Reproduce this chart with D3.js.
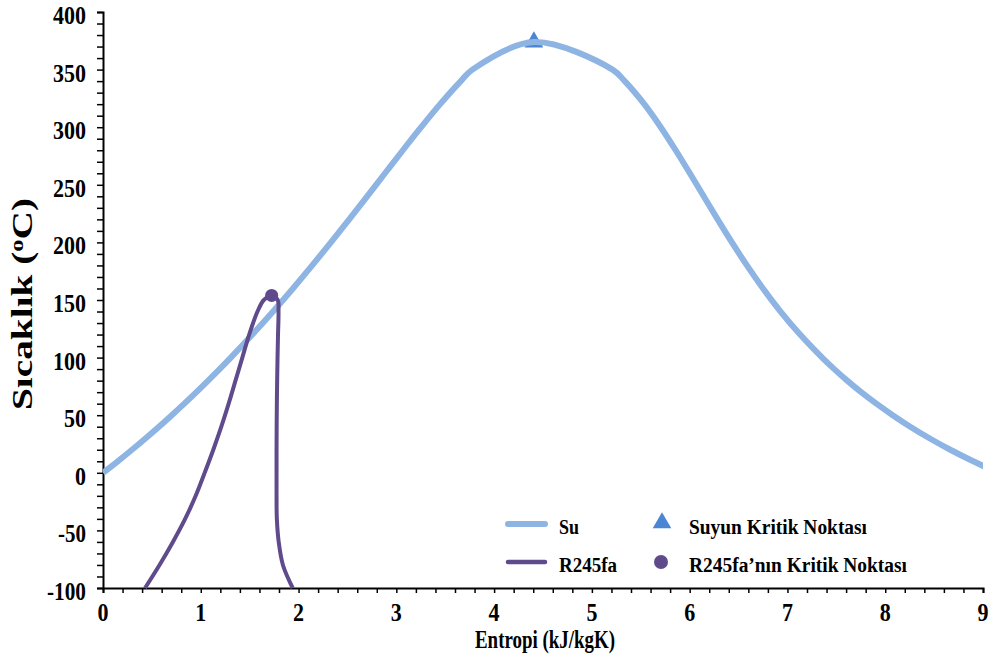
<!DOCTYPE html>
<html>
<head>
<meta charset="utf-8">
<script src="https://cdn.jsdelivr.net/npm/d3@7"></script>
<style>
  body { margin: 0; background: #fff; }
  text { font-family: "Liberation Serif", "Times New Roman", serif; font-weight: bold; fill: #000; }
</style>
</head>
<body>
<div id="chart"></div>
<script>
// Su (water) saturation dome: temperature and liquid / vapour entropy
var waterT  = [0.01, 10, 20, 30, 40, 50, 60, 70, 80, 90, 100, 120, 140, 160, 180, 200, 220, 240, 260, 280, 300, 320, 340, 350, 373.95];
var waterSf = [0, 0.151, 0.2966, 0.4369, 0.5724, 0.7038, 0.8313, 0.9551, 1.0753, 1.1925, 1.3069, 1.5276, 1.7391, 1.9427, 2.1396, 2.3309, 2.5178, 2.7015, 2.8838, 3.0668, 3.2534, 3.448, 3.6594, 3.7777, 4.407];
var waterSg = [9.1556, 8.8999, 8.666, 8.452, 8.2557, 8.0763, 7.9096, 7.754, 7.6112, 7.4787, 7.3549, 7.1296, 6.9299, 6.7502, 6.5857, 6.4323, 6.2861, 6.1437, 6.0019, 5.8571, 5.7045, 5.5362, 5.3357, 5.2112, 4.407];

// R245fa saturation dome
var r245T  = [-100, -80, -60, -40, -20, 0, 20, 40, 60, 80, 100, 120, 140, 150, 154];
var r245Sf = [0.43, 0.578, 0.715, 0.84, 0.948, 1.04, 1.128, 1.21, 1.285, 1.355, 1.425, 1.495, 1.58, 1.645, 1.725];
var r245Sg = [1.94, 1.84, 1.797, 1.778, 1.775, 1.775, 1.775, 1.776, 1.778, 1.781, 1.785, 1.79, 1.795, 1.787, 1.725];

// critical points [s, T]
var waterCrit = [4.407, 373.95];
var r245Crit = [1.725, 154];

var xTicks = [0, 1, 2, 3, 4, 5, 6, 7, 8, 9];
var yTicks = [-100, -50, 0, 50, 100, 150, 200, 250, 300, 350, 400];

var vWidth = 989, vHeight = 660;
var margin = {top: 12, right: 6, bottom: 72, left: 103};
var w = vWidth - margin.left - margin.right;
var h = vHeight - margin.top - margin.bottom;

var svg = d3.select("#chart").append("svg")
    .attr("width", vWidth)
    .attr("height", vHeight);

var g = svg.append("g")
    .attr("transform", "translate(" + margin.left + "," + margin.top + ")");

var x = d3.scaleLinear().domain([0, 9]).range([0, w]);
var y = d3.scaleLinear().domain([-100, 400]).range([h, 0]);

svg.append("defs").append("clipPath").attr("id", "plotClip")
  .append("rect").attr("x", margin.left).attr("y", 0).attr("width", w).attr("height", vHeight);

// build curve points: liquid line upward, then vapour line downward
function domePoints(T, sf, sg) {
  var up = T.map(function (t, i) { return [sf[i], t]; });
  var down = [];
  for (var i = T.length - 2; i >= 0; i--) down.push([sg[i], T[i]]);
  return up.concat(down);
}
var waterPts = domePoints(waterT, waterSf, waterSg);
var r245Pts = domePoints(r245T, r245Sf, r245Sg);

var line = d3.line()
    .x(function (d) { return x(d[0]); })
    .y(function (d) { return y(d[1]); })
    .curve(d3.curveCatmullRom.alpha(0.5));

// axes (minor ticks)
var xAxis = d3.axisBottom(x).tickValues(d3.range(0, 9.001, 0.2)).tickSize(5).tickFormat("");
var yAxis = d3.axisLeft(y).tickValues(d3.range(-100, 400.1, 10)).tickSize(6).tickFormat("");

var gx = g.append("g").attr("transform", "translate(0," + h + ")").call(xAxis);
var gy = g.append("g").call(yAxis);
[gx, gy].forEach(function (a) {
  a.select(".domain").attr("stroke", "#000").attr("stroke-width", 2);
  a.selectAll(".tick line").attr("stroke", "#000").attr("stroke-width", 1.5);
});

// label width like the narrow bold serif of the original
function labelLen(d) {
  var s = String(d);
  return s.replace("-", "").length * 11 + (s.indexOf("-") >= 0 ? 6 : 0);
}

// tick labels
g.selectAll(".xlab").data(xTicks).enter().append("text")
    .attr("x", function (d) { return x(d); })
    .attr("y", h + 33)
    .attr("text-anchor", "middle")
    .attr("textLength", labelLen)
    .attr("lengthAdjust", "spacingAndGlyphs")
    .style("font-size", "25px")
    .text(function (d) { return d; });

g.selectAll(".ylab").data(yTicks).enter().append("text")
    .attr("x", -17)
    .attr("y", function (d) { return y(d) + 12; })
    .attr("text-anchor", "end")
    .attr("textLength", labelLen)
    .attr("lengthAdjust", "spacingAndGlyphs")
    .style("font-size", "25px")
    .text(function (d) { return d; });

// axis titles
svg.append("text")
    .attr("x", 475)
    .attr("y", 648)
    .attr("textLength", 140)
    .attr("lengthAdjust", "spacingAndGlyphs")
    .style("font-size", "25px")
    .text("Entropi (kJ/kgK)");

var yt = svg.append("text")
    .attr("transform", "translate(32,410) rotate(-90)")
    .attr("textLength", 212)
    .attr("lengthAdjust", "spacingAndGlyphs")
    .style("font-size", "29px");
yt.append("tspan").text("Sıcaklık (");
yt.append("tspan").attr("dy", -9).style("font-size", "18px").text("o");
yt.append("tspan").attr("dy", 9).text("C)");

// series
var plot = svg.append("g").attr("clip-path", "url(#plotClip)")
  .append("g").attr("transform", "translate(" + margin.left + "," + margin.top + ")");

plot.append("path")
    .datum(waterPts)
    .attr("d", line)
    .attr("fill", "none")
    .attr("stroke", "#8db4e2")
    .attr("stroke-width", 6)
    .attr("stroke-linejoin", "round");

plot.append("path")
    .datum(r245Pts)
    .attr("d", line)
    .attr("fill", "none")
    .attr("stroke", "#5f4b8b")
    .attr("stroke-width", 4)
    .attr("stroke-linejoin", "round");

g.append("path")
    .attr("d", d3.symbol().type(d3.symbolTriangle).size(150))
    .attr("transform", "translate(" + x(waterCrit[0]) + "," + y(waterCrit[1]) + ")")
    .attr("fill", "#4a86d4");

g.append("circle")
    .attr("cx", x(r245Crit[0]))
    .attr("cy", y(r245Crit[1]))
    .attr("r", 6.5)
    .attr("fill", "#5f4b8b");

// legend
var legend = svg.append("g");
function legendText(xp, yp, len, s) {
  legend.append("text").attr("x", xp).attr("y", yp)
      .attr("textLength", len).attr("lengthAdjust", "spacingAndGlyphs")
      .style("font-size", "20px").text(s);
}
legend.append("line").attr("x1", 508).attr("x2", 545).attr("y1", 524).attr("y2", 524)
    .attr("stroke", "#8db4e2").attr("stroke-width", 6).attr("stroke-linecap", "round");
legendText(559, 534, 20, "Su");
legend.append("line").attr("x1", 508).attr("x2", 545).attr("y1", 562).attr("y2", 562)
    .attr("stroke", "#5f4b8b").attr("stroke-width", 4.5).attr("stroke-linecap", "round");
legendText(559, 572, 58, "R245fa");
legend.append("path")
    .attr("d", d3.symbol().type(d3.symbolTriangle).size(150))
    .attr("transform", "translate(662,523)")
    .attr("fill", "#4a86d4");
legendText(689, 534, 178, "Suyun Kritik Noktası");
legend.append("circle").attr("cx", 661).attr("cy", 562).attr("r", 7).attr("fill", "#5f4b8b");
legendText(689, 572, 218, "R245fa’nın Kritik Noktası");
</script>
</body>
</html>
